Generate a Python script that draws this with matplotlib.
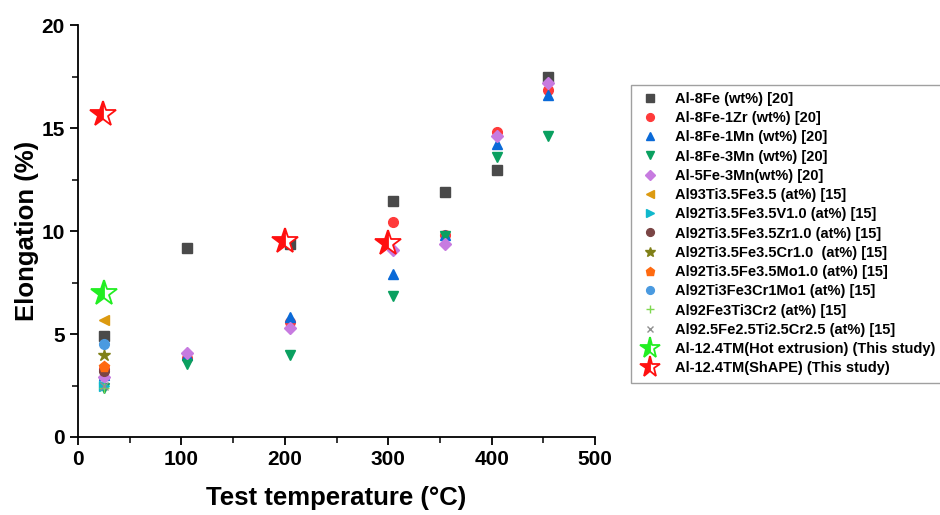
import matplotlib.pyplot as plt
from matplotlib.ticker import MultipleLocator

plt.rcParams['font.family'] = ['Liberation Sans', 'DejaVu Sans']

# Al-Fe series from ref [20]
temp_20 = [25, 105, 205, 305, 355, 405, 455]
al8fe = [4.9, 9.2, 9.35, 11.45, 11.9, 12.95, 17.5]
al8fe_1zr = [3.3, 3.85, 5.6, 10.45, 9.8, 14.8, 16.85]
al8fe_1mn = [3.0, 4.0, 5.85, 7.9, 9.8, 14.25, 16.6]
al8fe_3mn = [2.4, 3.55, 4.0, 6.85, 9.75, 13.6, 14.6]
al5fe_3mn = [2.9, 4.1, 5.3, 9.1, 9.35, 14.6, 17.2]

# ref [15], room temperature only
temp_15 = [25]
al93 = [5.7]
al92_v = [2.5]
al92_zr = [3.2]
al92_cr = [4.0]
al92_mo = [3.4]
al92_crmo = [4.5]
al92_fe3 = [2.4]
al925 = [2.5]

# this study
temp_hot = [25]
hot_ext = [7.0]
temp_shape = [24, 200, 300]
shape = [15.7, 9.5, 9.4]

fig = plt.figure(figsize=(9.4, 5.15), dpi=100)
ax = fig.add_axes([0.083, 0.1515, 0.55, 0.7995])

ms = 7
ax.plot(temp_20, al8fe, 's', color='#4a4a4a', ms=ms, label='Al-8Fe (wt%) [20]')
ax.plot(temp_20, al8fe_1zr, 'o', color='#ff3a3a', ms=ms, label='Al-8Fe-1Zr (wt%) [20]')
ax.plot(temp_20, al8fe_1mn, '^', color='#0a6ad8', ms=ms, label='Al-8Fe-1Mn (wt%) [20]')
ax.plot(temp_20, al8fe_3mn, 'v', color='#0aa060', ms=ms, label='Al-8Fe-3Mn (wt%) [20]')
ax.plot(temp_20, al5fe_3mn, 'D', color='#c77be0', ms=6, label='Al-5Fe-3Mn(wt%) [20]')
ax.plot(temp_15, al93, '<', color='#dc9a10', ms=ms, label='Al93Ti3.5Fe3.5 (at%) [15]')
ax.plot(temp_15, al92_v, '>', color='#10b8cc', ms=ms, label='Al92Ti3.5Fe3.5V1.0 (at%) [15]')
ax.plot(temp_15, al92_zr, 'o', color='#7a4545', ms=ms, label='Al92Ti3.5Fe3.5Zr1.0 (at%) [15]')
ax.plot(temp_15, al92_cr, '*', color='#808018', ms=9, label='Al92Ti3.5Fe3.5Cr1.0  (at%) [15]')
ax.plot(temp_15, al92_mo, 'p', color='#ff6a10', ms=8, label='Al92Ti3.5Fe3.5Mo1.0 (at%) [15]')
ax.plot(temp_15, al92_crmo, 'o', color='#4a9ae0', ms=ms, label='Al92Ti3Fe3Cr1Mo1 (at%) [15]')
ax.plot(temp_15, al92_fe3, '+', color='#7fd850', ms=ms, label='Al92Fe3Ti3Cr2 (at%) [15]')
ax.plot(temp_15, al925, 'x', color='#909090', ms=6, label='Al92.5Fe2.5Ti2.5Cr2.5 (at%) [15]')
ax.plot(temp_hot, hot_ext, '*', color='#22ee22', mec='#22ee22', fillstyle='left',
        markerfacecoloralt='white', ms=19, mew=1.3, label='Al-12.4TM(Hot extrusion) (This study)')
ax.plot(temp_shape, shape, '*', color='#ff1010', mec='#ff1010', fillstyle='left',
        markerfacecoloralt='white', ms=19, mew=1.3, label='Al-12.4TM(ShAPE) (This study)')

ax.set_xlim(0, 500)
ax.set_ylim(0, 20)
ax.xaxis.set_major_locator(MultipleLocator(100))
ax.xaxis.set_minor_locator(MultipleLocator(50))
ax.yaxis.set_major_locator(MultipleLocator(5))
ax.yaxis.set_minor_locator(MultipleLocator(2.5))
ax.spines['top'].set_visible(False)
ax.spines['right'].set_visible(False)
for s in ['left', 'bottom']:
    ax.spines[s].set_linewidth(1.3)
ax.tick_params(which='major', direction='out', length=6, width=1.3, labelsize=15)
ax.tick_params(which='minor', direction='out', length=4, width=1.1)
for lab in ax.get_xticklabels() + ax.get_yticklabels():
    lab.set_fontweight('bold')

ax.set_xlabel('Test temperature (°C)', fontsize=18.5, fontweight='bold', labelpad=12)
ax.set_ylabel('Elongation (%)', fontsize=18.5, fontweight='bold', labelpad=2)

leg = fig.legend(loc='upper left', bbox_to_anchor=(0.664, 0.85), frameon=True,
                 fancybox=False, edgecolor='#888888', labelspacing=0.36,
                 handletextpad=0.9, borderpad=0.5, handlelength=1.6, markerscale=0.8,
                 prop={'weight': 'bold', 'size': 10.5})
leg.get_frame().set_linewidth(1.0)

fig.savefig('out.png', dpi=100)
